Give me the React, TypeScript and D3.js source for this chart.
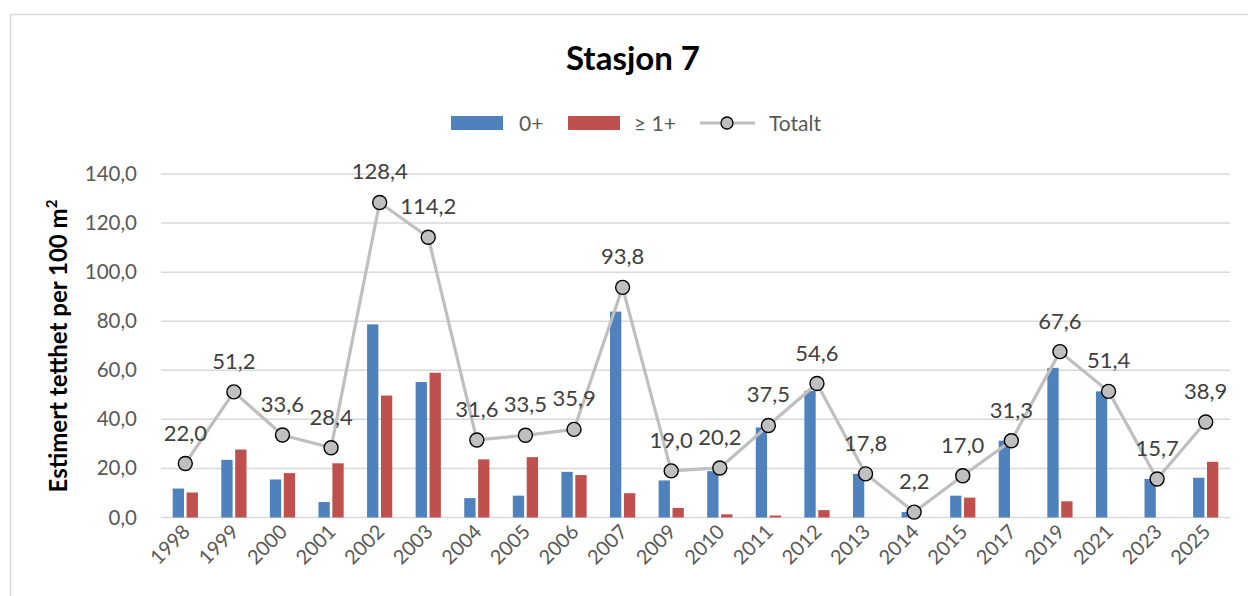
import React from "react"
import * as d3 from "d3"

// estimated densities per station year
const years = ["1998", "1999", "2000", "2001", "2002", "2003", "2004", "2005", "2006", "2007", "2009",
  "2010", "2011", "2012", "2013", "2014", "2015", "2017", "2019", "2021", "2023", "2025"]
const youngOfYear = [11.8, 23.5, 15.5, 6.3, 78.7, 55.2, 7.9, 8.9, 18.6, 83.9, 15.1,
  18.9, 36.7, 51.6, 17.8, 2.2, 8.9, 31.3, 61.0, 51.4, 15.7, 16.2]
const older = [10.2, 27.7, 18.1, 22.1, 49.7, 59.0, 23.7, 24.6, 17.3, 9.9, 3.9,
  1.3, 0.8, 3.0, 0, 0, 8.1, 0, 6.6, 0, 0, 22.7]
const totals = [22.0, 51.2, 33.6, 28.4, 128.4, 114.2, 31.6, 33.5, 35.9, 93.8, 19.0,
  20.2, 37.5, 54.6, 17.8, 2.2, 17.0, 31.3, 67.6, 51.4, 15.7, 38.9]
const yTicks = [0, 20, 40, 60, 80, 100, 120, 140]

const W = 1248
const H = 596
const font = "Lato, 'Open Sans', sans-serif"
const blue = "#4f81bd"
const red = "#c0504d"
const lineGray = "#bfbfbf"
const textGray = "#595959"

export default function App() {
  const x = d3.scaleBand().domain(years).range([161, 1230])
  const y = d3.scaleLinear().domain([0, 140]).range([517.5, 174])
  const fmt = (v: number) => v.toFixed(1).replace(".", ",")
  const barW = 11.3
  const gap = 2.6

  const line = d3.line<number>()
    .x((_, i) => x(years[i])! + x.bandwidth() / 2)
    .y(d => y(d))

  return (
    <svg width={W} height={H} style={{ position: "absolute", left: 0, top: 0 }}>
      <rect x={0} y={0} width={W} height={H} fill="#fff" />
      <path d={`M10.5,${H} V14.5 H${W}`} fill="none" stroke="#d9d9d9" strokeWidth={1.5} />

      <text x={633} y={70} textAnchor="middle" fontFamily={font} fontWeight="bold" fontSize={33} fill="#000">
        Stasjon 7
      </text>

      {/* legend */}
      <g fontFamily={font} fontSize={21} fill={textGray}>
        <rect x={451} y={116} width={52} height={14} fill={blue} />
        <text x={519} y={130.5}>0+</text>
        <rect x={568} y={116} width={52} height={14} fill={red} />
        <text x={634} y={130.5}>≥ 1+</text>
        <line x1={700} x2={755} y1={123} y2={123} stroke={lineGray} strokeWidth={3} />
        <circle cx={727} cy={123} r={6} fill={lineGray} stroke="#000" strokeWidth={1.3} />
        <text x={769} y={130.5}>Totalt</text>
      </g>

      {/* grid + y axis */}
      {yTicks.map(t => (
        <g key={t}>
          <line x1={161} x2={1230} y1={y(t)} y2={y(t)} stroke="#d9d9d9" strokeWidth={1.5} />
          <text x={137} y={y(t) + 7} textAnchor="end" fontFamily={font} fontSize={20.5} fill={textGray}>
            {fmt(t)}
          </text>
        </g>
      ))}

      <text transform="translate(67,346) rotate(-90)" textAnchor="middle" fontFamily={font} fontWeight="bold"
        fontSize={24} fill="#000">
        Estimert tetthet per 100 m<tspan dy={-10} fontSize={15}>2</tspan>
      </text>

      {/* bars */}
      {years.map((yr, i) => {
        const cx = x(yr)! + x.bandwidth() / 2
        return (
          <g key={yr}>
            <rect x={cx - gap / 2 - barW} y={y(youngOfYear[i])} width={barW}
              height={y(0) - y(youngOfYear[i])} fill={blue} />
            {older[i] > 0 && (
              <rect x={cx + gap / 2} y={y(older[i])} width={barW}
                height={y(0) - y(older[i])} fill={red} />
            )}
            <text transform={`translate(${cx + 6},${533}) rotate(-45)`} textAnchor="end" fontFamily={font}
              fontSize={20} fill={textGray}>
              {yr}
            </text>
          </g>
        )
      })}

      {/* total line */}
      <path d={line(totals)!} fill="none" stroke={lineGray} strokeWidth={3.2} strokeLinejoin="round" />
      {totals.map((v, i) => {
        const cx = x(years[i])! + x.bandwidth() / 2
        return (
          <g key={i}>
            <circle cx={cx} cy={y(v)} r={7} fill={lineGray} stroke="#000" strokeWidth={1.4} />
            <text x={cx} y={y(v) - 23} textAnchor="middle" fontFamily={font} fontSize={22} fill="#404040">
              {fmt(v)}
            </text>
          </g>
        )
      })}
    </svg>
  )
}
